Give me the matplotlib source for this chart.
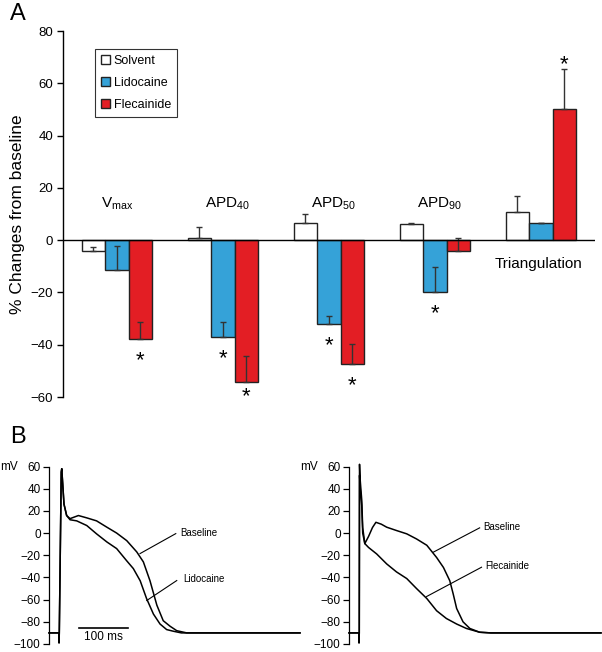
import matplotlib
matplotlib.use('Agg')
import matplotlib.pyplot as plt
import numpy as np

plt.rcParams['font.family'] = ['Liberation Sans', 'DejaVu Sans']
plt.rcParams['mathtext.fontset'] = 'custom'
plt.rcParams['mathtext.rm'] = 'Liberation Sans'
plt.rcParams['axes.unicode_minus'] = True

####### PANEL A DATA #######
groups = [r'V$_{\mathrm{max}}$', r'APD$_{\mathrm{40}}$', r'APD$_{\mathrm{50}}$',
          r'APD$_{\mathrm{90}}$', 'Triangulation']
drugs = ['Solvent', 'Lidocaine', 'Flecainide']
solvent = [-4, 1, 6.6, 6, 10.7]
solvent_err = [1.5, 4, 3.4, 0.7, 6]
lidocaine = [-11.4, -37, -32.2, -20, 6.6]
lidocaine_err = [9, 5.5, 3, 9.8, 0]
flecainide = [-38, -54.4, -47.2, -4.2, 50.3]
flecainide_err = [6.5, 10, 7.5, 5, 15]
lido_sig = [False, True, True, True, False]
flec_sig = [True, True, True, False, True]

####### PANEL B DATA (ms, mV) #######
lido_base_t = [0, 20, 20.5, 21, 25, 26, 30.6, 36, 42.9, 60, 77, 97, 118, 138, 158.5,
               179, 192.5, 206, 220, 233, 247, 260.6, 281, 512]
lido_base_v = [-90, -90, -99, -90, 55, 58, 26, 15.8, 13, 15.8, 13.7, 11, 5.3, 0, -6.8,
               -17, -26, -43, -65, -79, -84, -88, -90, -90]
lido_drug_t = [0, 20, 20.5, 21, 25, 26, 30.6, 36, 42.9, 56.5, 77, 97, 118, 138, 158.5,
               172, 186, 199, 213, 226.5, 240, 253.7, 270, 512]
lido_drug_v = [-90, -90, -99, -90, 55, 58, 26, 15.8, 12, 11, 6.8, -0.7, -8, -14, -25,
               -32, -43, -59, -73, -82, -87, -88.5, -90, -90]

flec_base_t = [0, 20, 20.5, 21, 21.5, 22.5, 26, 28, 32.3, 40, 48, 55, 66, 77, 97, 118,
               138, 159, 179, 193, 206, 213, 220, 233, 247, 267, 290, 515]
flec_base_v = [-90, -90, -99, -90, 62, 50, 30, 5, -9.5, -3, 5, 9.7, 8, 5.3, 2.3, -0.7,
               -5.3, -11, -22, -31, -43, -55, -68, -80, -86, -89.4, -90, -90]
flec_drug_t = [0, 20, 20.5, 21, 21.5, 23, 26, 28, 32.3, 40, 56.5, 77, 97, 118, 138, 159,
               179, 199, 220, 240, 267, 290, 515]
flec_drug_v = [-90, -90, -99, -90, 52, 40, 25, 0, -9.5, -13, -18.8, -27.8, -35, -41, -50,
               -59, -70, -77, -82, -86, -89.4, -90, -90]

####### FIGURE #######
W, H = 602, 652
fig = plt.figure(figsize=(W / 100, H / 100), dpi=100)

axA = fig.add_axes([63 / W, 1 - 397 / H, 532 / W, 366 / H])
x = np.arange(len(groups))
bw = 0.222
colors = ['white', '#35a2d8', '#e31e24']
vals = [solvent, lidocaine, flecainide]
errs = [solvent_err, lidocaine_err, flecainide_err]
for i in range(3):
    axA.bar(x + (i - 1) * bw, vals[i], bw, color=colors[i], edgecolor='#222222',
            linewidth=1, label=drugs[i], zorder=2)
    axA.errorbar(x + (i - 1) * bw, vals[i], yerr=[np.zeros(len(x)), errs[i]], fmt='none',
                 ecolor='#333333', elinewidth=1, capsize=2.5, capthick=1, zorder=3)

axA.axhline(0, color='black', lw=1, zorder=4)
axA.set_xlim(-0.509, 4.51)
axA.set_ylim(-60, 80)
axA.set_yticks(range(-60, 81, 20))
axA.set_xticks([])
for s in ['top', 'right', 'bottom']:
    axA.spines[s].set_visible(False)
axA.spines['left'].set_linewidth(1)
axA.tick_params(axis='y', length=4, width=1, labelsize=9.5, pad=3)
axA.set_ylabel('% Changes from baseline', fontsize=12.5, labelpad=4)

# significance stars
for sig, v, e, off in [(lido_sig, lidocaine, lidocaine_err, 0), (flec_sig, flecainide, flecainide_err, 1)]:
    for k in range(len(x)):
        if not sig[k]:
            continue
        if v[k] < 0:
            ys = max(v[k] - 12.3, -64)
        else:
            ys = v[k] + e[k] - 2.3
        axA.text(x[k] + off * bw, ys, '*', ha='center', va='bottom', fontsize=16,
                 clip_on=False)

# group labels
for k in range(4):
    axA.text(x[k] + (0 if k == 0 else 0.04), 14, groups[k], ha='center', va='center', fontsize=11)
axA.text(x[4] - 0.02, -9, groups[4], ha='center', va='center', fontsize=11)

leg = axA.legend(loc='upper left', bbox_to_anchor=(0.06, 0.951), borderaxespad=0,
                 fancybox=False, edgecolor='black', handlelength=0.7, handleheight=0.7,
                 handletextpad=0.3, labelspacing=0.8, borderpad=0.5, fontsize=9)
leg.get_frame().set_linewidth(0.8)

fig.text(18 / W, 1 - 14 / H, 'A', fontsize=17, ha='center', va='center')
fig.text(18 / W, 1 - 437 / H, 'B', fontsize=17, ha='center', va='center')

####### PANEL B #######
def trace_axes(rect, xmax):
    ax = fig.add_axes(rect)
    ax.set_xlim(0, xmax)
    ax.set_ylim(-100, 60)
    ax.set_yticks(range(-100, 61, 20))
    ax.set_xticks([])
    for s in ['top', 'right', 'bottom']:
        ax.spines[s].set_visible(False)
    ax.spines['left'].set_linewidth(0.9)
    ax.tick_params(axis='y', length=4, width=0.9, labelsize=8.5, pad=2)
    ax.patch.set_alpha(0)
    return ax

axL = trace_axes([49 / W, 1 - 644 / H, 251 / W, 177.5 / H], 512)
axL.plot(lido_base_t, lido_base_v, color='black', lw=1.1, clip_on=False)
axL.plot(lido_drug_t, lido_drug_v, color='black', lw=1.1, clip_on=False)
axL.plot([258.6, 185.7], [-0.5, -18.5], color='black', lw=0.8)
axL.text(267, 0.5, 'Baseline', fontsize=7, va='center')
axL.plot([260.6, 199.4], [-42.8, -60.8], color='black', lw=0.8)
axL.text(273.5, -41, 'Lidocaine', fontsize=7, va='center')
axL.plot([61, 161], [-85.4, -85.4], color='black', lw=1.2)
axL.text(111, -94, '100 ms', fontsize=8.5, ha='center', va='center')

axR = trace_axes([349 / W, 1 - 644 / H, 252 / W, 177.5 / H], 515)
axR.plot(flec_base_t, flec_base_v, color='black', lw=1.1, clip_on=False)
axR.plot(flec_drug_t, flec_drug_v, color='black', lw=1.1, clip_on=False)
axR.plot([267, 172], [4.7, -17.3], color='black', lw=0.8)
axR.text(273.5, 5.9, 'Baseline', fontsize=7, va='center')
axR.plot([270.8, 158.6], [-30.8, -57.2], color='black', lw=0.8)
axR.text(277.5, -30, 'Flecainide', fontsize=7, va='center')

fig.text(9 / W, 1 - 466.7 / H, 'mV', fontsize=8.5, ha='center', va='center')
fig.text(309 / W, 1 - 466.7 / H, 'mV', fontsize=8.5, ha='center', va='center')

fig.savefig('out.png', dpi=100)
